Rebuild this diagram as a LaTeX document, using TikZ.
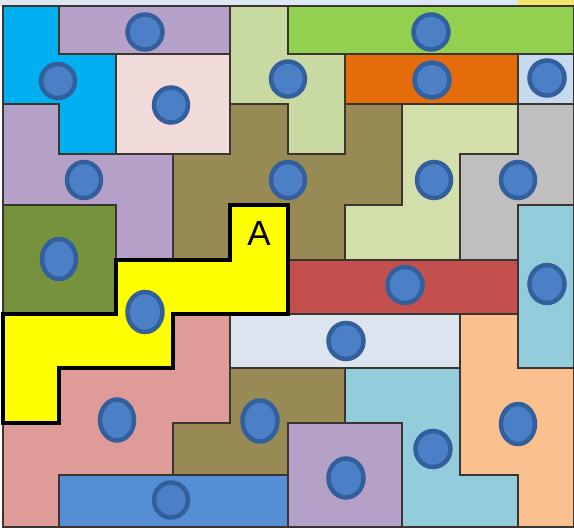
\documentclass[tikz,border=0pt]{standalone}
\usepackage{fontspec}
\setmainfont{Liberation Sans}
\definecolor{cCyan}{HTML}{00B0F0}
\definecolor{cLav}{HTML}{B5A1C8}
\definecolor{cLg}{HTML}{C9D9A2}
\definecolor{cLgb}{HTML}{D2DFAA}
\definecolor{cGreen}{HTML}{92D050}
\definecolor{cPink}{HTML}{F2DCDB}
\definecolor{cOrange}{HTML}{E46C0A}
\definecolor{cLbg}{HTML}{C6D9EE}
\definecolor{cOlive}{HTML}{978A55}
\definecolor{cGrey}{HTML}{C0BEBE}
\definecolor{cOg}{HTML}{76923C}
\definecolor{cYellow}{HTML}{FFFF00}
\definecolor{cRed}{HTML}{C4504D}
\definecolor{cLc}{HTML}{93CDDC}
\definecolor{cSalmon}{HTML}{DE9B98}
\definecolor{cPbg}{HTML}{DCE4F0}
\definecolor{cPeach}{HTML}{FAC08F}
\definecolor{cBlue}{HTML}{568ED6}
\definecolor{cEdge}{HTML}{3A3530}
\definecolor{cRing}{HTML}{33609C}
\definecolor{cDot}{HTML}{4C80C6}
\definecolor{cStrip}{HTML}{DDE7F3}
\definecolor{cStripY}{HTML}{F3E46C}
\tikzset{
  piece/.style={draw=cEdge, line width=1.6pt, line join=miter},
  bigpiece/.style={draw=black, line width=3.6pt, line join=miter},
  dot/.style={draw=cRing, fill=cDot, line width=4.5pt},
  label/.style={font=\fontsize{35}{35}\selectfont, text=black, inner sep=0pt}
}
\begin{document}
\begin{tikzpicture}[x=1pt, y=-1pt]
\useasboundingbox (0,0) rectangle (574,528);
\fill[white] (0,0) rectangle (574,528);
% top strip
\fill[cStrip] (0,0) rectangle (518,6);
\fill[cStripY] (518,0) rectangle (574,6);
% pieces
\path[piece, fill=cCyan] (3,6)--(59,6)--(59,54)--(116,54)--(116,154)--(59,154)--(59,104)--(3,104)--cycle;
\path[piece, fill=cLav] (59,6)--(230,6)--(230,54)--(59,54)--cycle;
\path[piece, fill=cLg] (230,6)--(288,6)--(288,54)--(345,54)--(345,154)--(288,154)--(288,104)--(230,104)--cycle;
\path[piece, fill=cGreen] (288,6)--(574,6)--(574,54)--(288,54)--cycle;
\path[piece, fill=cPink] (116,54)--(230,54)--(230,154)--(116,154)--cycle;
\path[piece, fill=cOrange] (345,54)--(518,54)--(518,104)--(345,104)--cycle;
\path[piece, fill=cLbg] (518,54)--(574,54)--(574,104)--(518,104)--cycle;
\path[piece, fill=cLav] (3,104)--(59,104)--(59,154)--(173,154)--(173,260)--(116,260)--(116,205)--(3,205)--cycle;
\path[piece, fill=cOlive] (230,104)--(288,104)--(288,154)--(345,154)--(345,104)--(402,104)--(402,205)--(345,205)--(345,260)--(288,260)--(288,205)--(230,205)--(230,260)--(173,260)--(173,154)--(230,154)--cycle;
\path[piece, fill=cLgb] (402,104)--(518,104)--(518,154)--(460,154)--(460,260)--(345,260)--(345,205)--(402,205)--cycle;
\path[piece, fill=cGrey] (518,104)--(574,104)--(574,205)--(518,205)--(518,260)--(460,260)--(460,154)--(518,154)--cycle;
\path[piece, fill=cOg] (3,205)--(116,205)--(116,314)--(3,314)--cycle;
\path[piece, fill=cRed] (288,260)--(518,260)--(518,314)--(288,314)--cycle;
\path[piece, fill=cLc] (518,205)--(574,205)--(574,368)--(518,368)--cycle;
\path[piece, fill=cSalmon] (173,314)--(230,314)--(230,423)--(173,423)--(173,475)--(59,475)--(59,527)--(3,527)--(3,423)--(59,423)--(59,368)--(173,368)--cycle;
\path[piece, fill=cPbg] (230,314)--(460,314)--(460,368)--(230,368)--cycle;
\path[piece, fill=cPeach] (460,314)--(518,314)--(518,368)--(574,368)--(574,527)--(518,527)--(518,475)--(460,475)--cycle;
\path[piece, fill=cOlive] (230,368)--(345,368)--(345,423)--(288,423)--(288,475)--(173,475)--(173,423)--(230,423)--cycle;
\path[piece, fill=cLc] (345,368)--(460,368)--(460,475)--(518,475)--(518,527)--(402,527)--(402,423)--(345,423)--cycle;
\path[piece, fill=cLav] (288,423)--(402,423)--(402,527)--(288,527)--cycle;
\path[piece, fill=cBlue] (59,475)--(288,475)--(288,527)--(59,527)--cycle;
% highlighted piece
\path[bigpiece, fill=cYellow] (230,205)--(288,205)--(288,314)--(173,314)--(173,368)--(59,368)--(59,423)--(3,423)--(3,314)--(116,314)--(116,260)--(230,260)--cycle;
\node[label] (A) at (259,233) {A};
% dots
\path[dot] (145,32) ellipse [x radius=17.5, y radius=17.5];
\path[dot] (58,81) ellipse [x radius=17, y radius=17];
\path[dot] (171,105) ellipse [x radius=17, y radius=17.5];
\path[dot] (288,79) ellipse [x radius=17, y radius=17.5];
\path[dot] (431,32) ellipse [x radius=17.5, y radius=17.5];
\path[dot] (432,80) ellipse [x radius=17.5, y radius=17.5];
\path[dot] (547,78) ellipse [x radius=17.5, y radius=17.5];
\path[dot] (84,180) ellipse [x radius=17, y radius=18];
\path[dot] (288,180) ellipse [x radius=17, y radius=18];
\path[dot] (434,180) ellipse [x radius=17, y radius=18];
\path[dot] (518,180) ellipse [x radius=17, y radius=18];
\path[dot] (59,259) ellipse [x radius=17, y radius=20];
\path[dot] (145,312) ellipse [x radius=17.5, y radius=20];
\path[dot] (405,285) ellipse [x radius=17.5, y radius=18];
\path[dot] (547,284) ellipse [x radius=17.5, y radius=19];
\path[dot] (346,341) ellipse [x radius=17.5, y radius=18];
\path[dot] (117,420) ellipse [x radius=17, y radius=20.5];
\path[dot] (260,421) ellipse [x radius=17.5, y radius=20.5];
\path[dot] (518,424) ellipse [x radius=17, y radius=20];
\path[dot] (433,449) ellipse [x radius=17.5, y radius=18];
\path[dot] (346,478) ellipse [x radius=17.5, y radius=19.5];
\path[dot] (171,500) ellipse [x radius=17, y radius=17.5];
\end{tikzpicture}
\end{document}
